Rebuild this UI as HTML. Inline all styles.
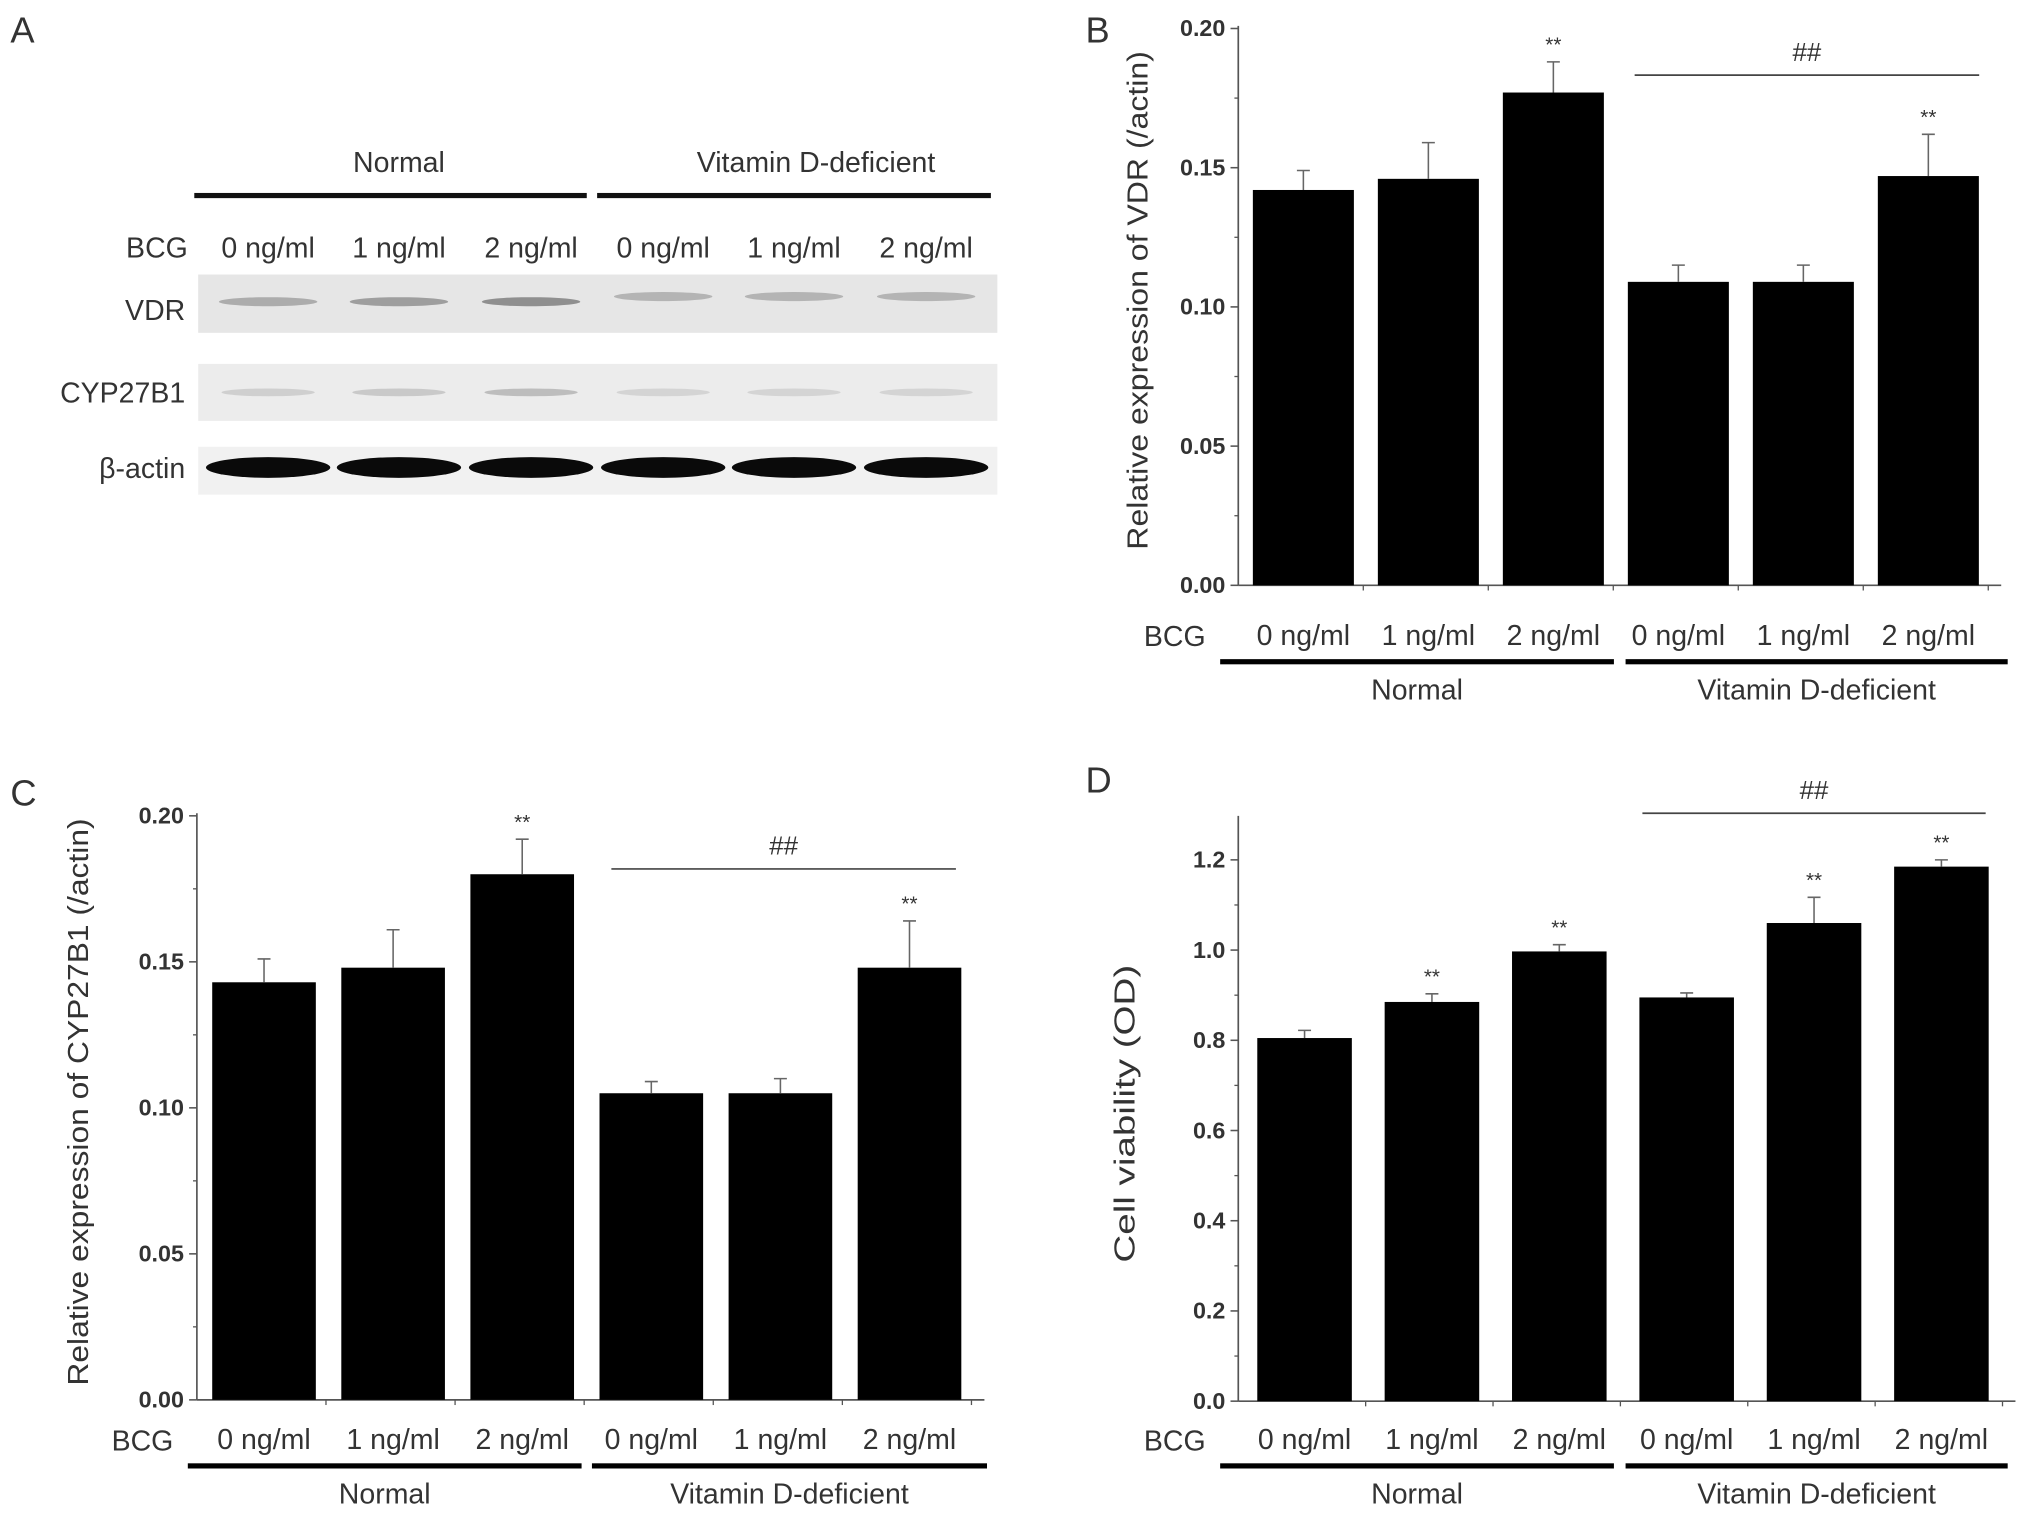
<!DOCTYPE html>
<html><head><meta charset="utf-8"><style>
html,body{margin:0;padding:0;background:#fff;}
svg{display:block;}
text{font-family:"Liberation Sans",sans-serif;fill:#333;}
</style></head><body>
<svg id="fig" width="2031" height="1519" viewBox="0 0 1568 1173" preserveAspectRatio="none" xmlns="http://www.w3.org/2000/svg">
<g>
<text x="8" y="33" font-size="28">A</text>
<text x="308" y="133" font-size="22" text-anchor="middle">Normal</text>
<text x="630" y="133" font-size="22" text-anchor="middle">Vitamin D-deficient</text>
<rect x="150" y="149" width="303" height="4" fill="#111"/>
<rect x="461" y="149" width="304" height="4" fill="#111"/>
<text x="145" y="199" font-size="22" text-anchor="end">BCG</text>
<rect x="153" y="212" width="617" height="45" fill="#e6e6e6"/>
<rect x="153" y="281" width="617" height="44" fill="#ececec"/>
<rect x="153" y="345" width="617" height="37" fill="#f1f1f1"/>
<text x="143" y="247" font-size="22" text-anchor="end">VDR</text>
<text x="143" y="311" font-size="22" text-anchor="end">CYP27B1</text>
<text x="143" y="369" font-size="22" text-anchor="end">β-actin</text>
<g id="lanesA"></g>
</g>
<g id="panels"></g>
</svg>
<script>
const NS="http://www.w3.org/2000/svg";
const lanes=["0 ng/ml","1 ng/ml","2 ng/ml","0 ng/ml","1 ng/ml","2 ng/ml"];
const groups=["Normal","Vitamin D-deficient"];
const vdrVals=[0.142,0.146,0.177,0.109,0.109,0.147];
const vdrErr=[0.007,0.013,0.011,0.006,0.006,0.015];
const vdrStars=["","","**","","","**"];
const cypVals=[0.143,0.148,0.180,0.105,0.105,0.148];
const cypErr=[0.008,0.013,0.012,0.004,0.005,0.016];
const cypStars=["","","**","","","**"];
const cvVals=[0.805,0.885,0.997,0.895,1.060,1.185];
const cvErr=[0.017,0.018,0.015,0.010,0.057,0.015];
const cvStars=["","**","**","","**","**"];
const ticks020=["0.00","0.05","0.10","0.15","0.20"];
const ticksCV=["0.0","0.2","0.4","0.6","0.8","1.0","1.2"];
const laneCentersA=[207,308,410,512,613,715];
const vdrBand=[0.4,0.5,0.6,0.35,0.35,0.35];
const cypBand=[0.25,0.3,0.4,0.2,0.2,0.2];

function mk(tag,attrs,parent,txt){const e=document.createElementNS(NS,tag);for(const k in attrs)e.setAttribute(k,attrs[k]);if(txt!==undefined)e.textContent=txt;parent.appendChild(e);return e;}

const gA=document.getElementById('lanesA');
lanes.forEach((l,i)=>{
 const cx=laneCentersA[i];
 const t=mk('text',{x:cx,y:199,'font-size':22,'text-anchor':'middle'},gA,l);
 
 
 const b1=mk('ellipse',{cx:cx,cy:233-(i>2?4:0),rx:38,ry:3.5,fill:'#555','fill-opacity':vdrBand[i]},gA);
 
 
 const b2=mk('ellipse',{cx:cx,cy:303,rx:36,ry:3,fill:'#777','fill-opacity':cypBand[i]},gA);
 
 
 const b3=mk('ellipse',{cx:cx,cy:361,rx:48,ry:8,fill:'#0a0a0a'},gA);
 
 
});

function panel(cfg){
 const root=document.getElementById('panels');
 const g=mk('g',{},root);
 
 
 const y=v=>cfg.y0-(v-0)/(cfg.vmax)*(cfg.y0-cfg.yTop);
 const L=mk('text',{x:cfg.letter[0],y:cfg.letter[1],'font-size':28},g,cfg.letterText);
 
 
 const ya=mk('line',{x1:cfg.ax,y1:cfg.y0,x2:cfg.ax,y2:cfg.yAxisTop,stroke:'#555','stroke-width':1.3},g);
 
 
 const xa=mk('line',{x1:cfg.ax,y1:cfg.y0,x2:cfg.axEnd,y2:cfg.y0,stroke:'#555','stroke-width':1.3},g);
 
 
 cfg.ticks.forEach((t,i)=>{
  const v=parseFloat(t), yy=y(v);
  const tk=mk('line',{x1:cfg.ax-6,y1:yy,x2:cfg.ax,y2:yy,stroke:'#555','stroke-width':1.2},g);
  
  
  const tl=mk('text',{x:cfg.ax-10,y:yy+6,'font-size':18,'font-weight':'bold','text-anchor':'end',fill:'#333'},g,t);
  
  
  if(i<cfg.ticks.length-1){
   const mv=(v+parseFloat(cfg.ticks[i+1]))/2;
   const mt=mk('line',{x1:cfg.ax-3,y1:y(mv),x2:cfg.ax,y2:y(mv),stroke:'#555','stroke-width':1},g);
   
   
  }
 });
 const yt=mk('text',{x:0,y:0,'font-size':22,'text-anchor':'middle',textLength:cfg.titleLen,lengthAdjust:'spacingAndGlyphs',transform:`translate(${cfg.titleX},${cfg.titleY}) rotate(-90)`},g,cfg.title);
 
 
 const step=(cfg.axEnd-cfg.ax-10)/6;
 cfg.vals.forEach((v,i)=>{
  const cx=cfg.ax+step*(i+0.5)+2;
  const top=y(v);
  const r=mk('rect',{x:cx-cfg.bw/2,y:top,width:cfg.bw,height:cfg.y0-top,fill:'#000'},g);
  
  
  const et=y(v+cfg.err[i]);
  const el=mk('path',{d:`M${cx},${top} V${et} M${cx-5},${et} H${cx+5}`,stroke:'#666','stroke-width':1.2,fill:'none'},g);
  
  
  if(cfg.stars[i]){
   const st=mk('text',{x:cx,y:et-8,'font-size':16,'text-anchor':'middle'},g,cfg.stars[i]);
   
   
  }
  const xl=mk('text',{x:cx,y:cfg.y0+cfg.lab,'font-size':22,'text-anchor':'middle'},g,lanes[i]);
  
  
  const xt=mk('line',{x1:cfg.ax+step*(i+1),y1:cfg.y0,x2:cfg.ax+step*(i+1),y2:cfg.y0+4,stroke:'#555'},g);
  
  
 });
 const bcg=mk('text',{x:cfg.bcgX,y:cfg.y0+cfg.lab+1,'font-size':22,'text-anchor':'middle'},g,'BCG');
 
 
 const gl1=mk('rect',{x:cfg.g1[0],y:cfg.y0+cfg.ln,width:cfg.g1[1]-cfg.g1[0],height:4,fill:'#000'},g);
 
 
 const gl2=mk('rect',{x:cfg.g2[0],y:cfg.y0+cfg.ln,width:cfg.g2[1]-cfg.g2[0],height:4,fill:'#000'},g);
 
 
 const gt1=mk('text',{x:(cfg.g1[0]+cfg.g1[1])/2,y:cfg.y0+cfg.ln+31,'font-size':22,'text-anchor':'middle'},g,groups[0]);
 
 
 const gt2=mk('text',{x:(cfg.g2[0]+cfg.g2[1])/2,y:cfg.y0+cfg.ln+31,'font-size':22,'text-anchor':'middle'},g,groups[1]);
 
 
 const hl=mk('line',{x1:cfg.hash[0],y1:cfg.hash[2],x2:cfg.hash[1],y2:cfg.hash[2],stroke:'#444','stroke-width':1.3},g);
 
 
 const ht=mk('text',{x:(cfg.hash[0]+cfg.hash[1])/2,y:cfg.hash[2]-11,'font-size':20,'text-anchor':'middle'},g,'##');
 
 
}
panel({name:'panel-b-vdr',letterText:'B',letter:[838,33],ax:956,axEnd:1545,y0:452,yTop:22,yAxisTop:20,vmax:0.20,ticks:ticks020,vals:vdrVals,err:vdrErr,stars:vdrStars,bw:78,title:'Relative expression of VDR (/actin)',titleLen:385,titleX:886,titleY:232,bcgX:907,lab:46,ln:57,g1:[942,1246],g2:[1255,1550],hash:[1262,1528,58]});
panel({name:'panel-c-cyp27b1',letterText:'C',letter:[8,622],ax:152,axEnd:760,y0:1081,yTop:630,yAxisTop:628,vmax:0.20,ticks:ticks020,vals:cypVals,err:cypErr,stars:cypStars,bw:80,title:'Relative expression of CYP27B1 (/actin)',titleLen:438,titleX:68,titleY:851,bcgX:110,lab:38,ln:49,g1:[145,449],g2:[457,762],hash:[472,738,671]});
panel({name:'panel-d-viability',letterText:'D',letter:[838,612],ax:956,axEnd:1556,y0:1082,yTop:664,yAxisTop:630,vmax:1.2,ticks:ticksCV,vals:cvVals,err:cvErr,stars:cvStars,bw:73,title:'Cell viability (OD)',titleLen:230,titleX:876,titleY:860,bcgX:907,lab:37,ln:48,g1:[942,1246],g2:[1255,1550],hash:[1268,1533,628]});
</script>
</body></html>
